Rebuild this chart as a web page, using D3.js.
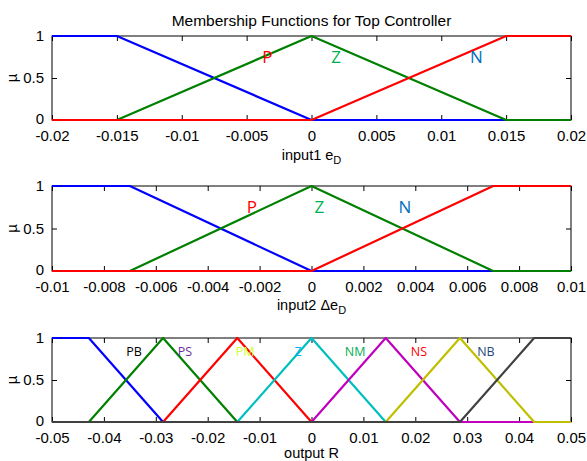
<!DOCTYPE html>
<html>
<head>
<meta charset="utf-8">
<script src="https://cdn.jsdelivr.net/npm/d3@7"></script>
<style>
body { margin: 0; background: #fff; }
svg { display: block; }
text { font-family: "Liberation Sans", Arial, sans-serif; }
.tag { font-family: "Open Sans", "Noto Sans", sans-serif; }
</style>
</head>
<body>
<svg id="chart" width="587" height="461"></svg>
<script>
// membership functions, breakpoints [x, mu]
var in1Blue  = [[-0.02, 1], [-0.015, 1], [0, 0], [0.02, 0]];
var in1Green = [[-0.02, 0], [-0.015, 0], [0, 1], [0.015, 0], [0.02, 0]];
var in1Red   = [[-0.02, 0], [0, 0], [0.015, 1], [0.02, 1]];

var in2Blue  = [[-0.01, 1], [-0.007, 1], [0, 0], [0.01, 0]];
var in2Green = [[-0.01, 0], [-0.007, 0], [0, 1], [0.007, 0], [0.01, 0]];
var in2Red   = [[-0.01, 0], [0, 0], [0.007, 1], [0.01, 1]];

var outBlue    = [[-0.05, 1], [-0.0429, 1], [-0.0286, 0], [0.05, 0]];
var outGreen   = [[-0.05, 0], [-0.0429, 0], [-0.0286, 1], [-0.0143, 0], [0.05, 0]];
var outRed     = [[-0.05, 0], [-0.0286, 0], [-0.0143, 1], [0, 0], [0.05, 0]];
var outCyan    = [[-0.05, 0], [-0.0143, 0], [0, 1], [0.0143, 0], [0.05, 0]];
var outMagenta = [[-0.05, 0], [0, 0], [0.0143, 1], [0.0286, 0], [0.05, 0]];
var outYellow  = [[-0.05, 0], [0.0143, 0], [0.0286, 1], [0.0429, 0], [0.05, 0]];
var outBlack   = [[-0.05, 0], [0.0286, 0], [0.0429, 1], [0.05, 1]];

var in1Ticks = [-0.02, -0.015, -0.01, -0.005, 0, 0.005, 0.01, 0.015, 0.02];
var in2Ticks = [-0.01, -0.008, -0.006, -0.004, -0.002, 0, 0.002, 0.004, 0.006, 0.008, 0.01];
var outTicks = [-0.05, -0.04, -0.03, -0.02, -0.01, 0, 0.01, 0.02, 0.03, 0.04, 0.05];
var yTicks = [0, 0.5, 1];

// text tags [label, x, mu]
var in1Tags = [["P", -0.0034, 0.68], ["Z", 0.0019, 0.68], ["N", 0.0127, 0.68]];
var in2Tags = [["P", -0.0023, 0.68], ["Z", 0.0003, 0.68], ["N", 0.0036, 0.68]];
var outTags = [["PB", -0.0342, 0.79], ["PS", -0.0244, 0.79], ["PM", -0.0128, 0.79], ["Z", -0.0026, 0.79],
               ["NM", 0.0084, 0.79], ["NS", 0.0207, 0.79], ["NB", 0.0336, 0.79]];

var svg = d3.select("#chart");
var left = 52, right = 571;

svg.append("text")
    .attr("x", (left + right) / 2)
    .attr("y", 26)
    .attr("text-anchor", "middle")
    .attr("font-size", "15.5px")
    .text("Membership Functions for Top Controller");

function panel(top, bottom, dom, ticks, curves, colors, tags, tagColors, tagSize, labelY, labelFn) {
    var x = d3.scaleLinear().domain(dom).range([left, right]);
    var y = d3.scaleLinear().domain([0, 1]).range([bottom, top]);
    var g = svg.append("g");

    // box
    g.append("rect")
        .attr("x", left).attr("y", top)
        .attr("width", right - left).attr("height", bottom - top)
        .attr("fill", "none").attr("stroke", "#000").attr("stroke-width", 1);

    // bottom axis with labels, ticks pointing in
    var xb = g.append("g")
        .attr("transform", "translate(0," + bottom + ")")
        .call(d3.axisBottom(x).tickValues(ticks).tickSizeInner(-5).tickSizeOuter(0).tickPadding(10)
            .tickFormat(function(d) { return d === 0 ? "0" : String(+d.toFixed(4)); }));
    xb.select(".domain").remove();
    xb.selectAll("text").attr("font-size", "15px").attr("font-family", "Liberation Sans, Arial, sans-serif").attr("fill", "#000");

    var xt = g.append("g")
        .attr("transform", "translate(0," + top + ")")
        .call(d3.axisTop(x).tickValues(ticks).tickSizeInner(-5).tickSizeOuter(0).tickFormat(""));
    xt.select(".domain").remove();

    var yl = g.append("g")
        .attr("transform", "translate(" + left + ",0)")
        .call(d3.axisLeft(y).tickValues(yTicks).tickSizeInner(-5).tickSizeOuter(0).tickPadding(8)
            .tickFormat(function(d) { return String(d); }));
    yl.select(".domain").remove();
    yl.selectAll("text").attr("font-size", "15px").attr("font-family", "Liberation Sans, Arial, sans-serif").attr("fill", "#000")
        .attr("dy", function(d) { return d === 0 ? "0.2em" : "0.32em"; });

    var yr = g.append("g")
        .attr("transform", "translate(" + right + ",0)")
        .call(d3.axisRight(y).tickValues(yTicks).tickSizeInner(-5).tickSizeOuter(0).tickFormat(""));
    yr.select(".domain").remove();

    // curves
    var line = d3.line().x(function(d) { return x(d[0]); }).y(function(d) { return y(d[1]); });
    curves.forEach(function(c, i) {
        g.append("path")
            .attr("d", line(c))
            .attr("fill", "none")
            .attr("stroke", colors[i])
            .attr("stroke-width", 2.2)
            .attr("stroke-linejoin", "round");
    });

    tags.forEach(function(t, i) {
        g.append("text")
            .attr("class", "tag")
            .attr("x", x(t[1]))
            .attr("y", y(t[2]))
            .attr("text-anchor", "middle")
            .attr("font-size", tagSize)
            .attr("fill", tagColors[i])
            .text(t[0]);
    });

    // y label
    g.append("text")
        .attr("transform", "translate(17," + (top + bottom) / 2 + ") rotate(-90)")
        .attr("text-anchor", "middle")
        .attr("font-size", "15px")
        .text("\u00b5");

    var lab = g.append("text")
        .attr("x", (left + right) / 2)
        .attr("y", labelY)
        .attr("text-anchor", "middle")
        .attr("font-size", "14.5px");
    labelFn(lab);
}

panel(36, 120, [-0.02, 0.02], in1Ticks,
    [in1Blue, in1Green, in1Red], ["#0000ff", "#008000", "#ff0000"],
    in1Tags, ["#ff0000", "#00b050", "#0070c0"], "17px", 160,
    function(t) {
        t.append("tspan").text("input1 e");
        t.append("tspan").attr("dy", 4).attr("font-size", "11px").text("D");
    });

panel(186, 271, [-0.01, 0.01], in2Ticks,
    [in2Blue, in2Green, in2Red], ["#0000ff", "#008000", "#ff0000"],
    in2Tags, ["#ff0000", "#00b050", "#0070c0"], "17px", 310,
    function(t) {
        t.append("tspan").text("input2 \u0394e");
        t.append("tspan").attr("dy", 4).attr("font-size", "11px").text("D");
    });

panel(338, 422, [-0.05, 0.05], outTicks,
    [outBlue, outGreen, outRed, outCyan, outMagenta, outYellow, outBlack],
    ["#0000ff", "#008000", "#ff0000", "#00bfbf", "#bf00bf", "#bfbf00", "#404040"],
    outTags, ["#000000", "#7030a0", "#ccff33", "#00b0f0", "#00b050", "#ff0000", "#1f497d"], "12.5px", 458,
    function(t) { t.text("output R"); });
</script>
</body>
</html>
